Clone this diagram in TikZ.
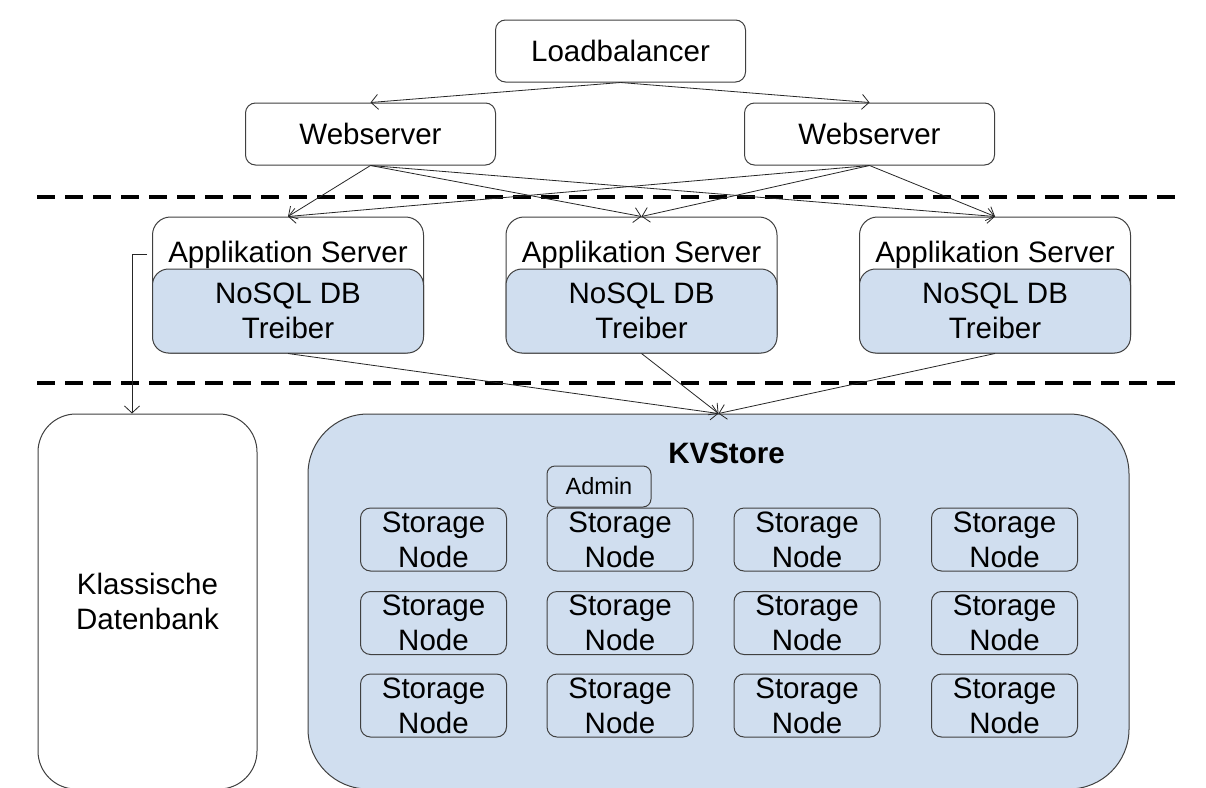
\documentclass[tikz,border=0pt]{standalone}
\usepackage{fontspec}
\setmainfont{Liberation Sans}
\usepackage{xcolor}
\usetikzlibrary{shapes,arrows.meta,positioning,calc}

\definecolor{kvblue}{RGB}{208,222,239}
\definecolor{edgegray}{RGB}{64,64,64}

\begin{document}
\begin{tikzpicture}[x=1pt, y=-1pt, every node/.style={font=\fontsize{29.5}{35}\selectfont}]

% Box and connector styles
\tikzstyle{box}=[rectangle, draw=edgegray, line width=1pt, align=center, inner sep=0pt, rounded corners=10pt]
\tikzstyle{server}=[box, fill=white, minimum width=250pt, minimum height=62pt]
\tikzstyle{appserver}=[box, fill=white, rounded corners=18pt, minimum width=271pt, minimum height=136pt]
\tikzstyle{driver}=[box, fill=kvblue, rounded corners=16pt, minimum width=271pt, minimum height=84pt]
\tikzstyle{storage}=[box, fill=kvblue, minimum width=146pt, minimum height=63pt]
\tikzstyle{admin}=[box, fill=kvblue, rounded corners=8pt, minimum width=104pt, minimum height=41pt, font=\fontsize{23.5}{28}\selectfont]
\tikzstyle{store}=[box, fill=kvblue, rounded corners=60pt, minimum width=821pt, minimum height=375pt]
\tikzstyle{database}=[box, fill=white, rounded corners=38pt, minimum width=219pt, minimum height=375pt]
\tikzstyle{link}=[-{Straight Barb[length=7pt, width=15pt]}, draw=black!85, line width=0.8pt]
\tikzstyle{layer}=[draw=black, line width=4pt, dash pattern=on 18pt off 10pt]

\fill[white] (0,0) rectangle (1206,787);
\useasboundingbox (0,0) rectangle (1206,787);

% Web tier
\node[server] (lb) at (620.5,51) {Loadbalancer};
\node[server] (ws1) at (370.5,134) {Webserver};
\node[server] (ws2) at (869.5,134) {Webserver};

% Tier separators
\coordinate (sepa1) at (37,197);
\coordinate (sepa2) at (1182,197);
\coordinate (sepb1) at (37,383);
\coordinate (sepb2) at (1182,383);
\draw[layer] (sepa1) -- (sepa2);
\draw[layer] (sepb1) -- (sepb2);

% Application servers with driver
\node[appserver] (app1) at (288,285) {};
\node[appserver] (app2) at (641.5,285) {};
\node[appserver] (app3) at (995,285) {};
\node[driver] (drv1) at (288,311) {NoSQL DB\\Treiber};
\node[driver] (drv2) at (641.5,311) {NoSQL DB\\Treiber};
\node[driver] (drv3) at (995,311) {NoSQL DB\\Treiber};
\node[anchor=base] (app1txt) at (288,262) {Applikation Server};
\node[anchor=base] (app2txt) at (641.5,262) {Applikation Server};
\node[anchor=base] (app3txt) at (995,262) {Applikation Server};

% Storage layer
\node[database] (db) at (147.5,601.5) {Klassische\\Datenbank};
\node[store] (kv) at (718.5,601.5) {};
\node[anchor=base, font=\fontsize{29.5}{35}\selectfont\bfseries] (kvtitle) at (726.5,463) {KVStore};
\node[admin] (adm) at (599,486.5) {Admin};

\node[storage] (sn11) at (433.5,539.5) {Storage\\Node};
\node[storage] (sn12) at (620,539.5) {Storage\\Node};
\node[storage] (sn13) at (807,539.5) {Storage\\Node};
\node[storage] (sn14) at (1004.5,539.5) {Storage\\Node};
\node[storage] (sn21) at (433.5,623) {Storage\\Node};
\node[storage] (sn22) at (620,623) {Storage\\Node};
\node[storage] (sn23) at (807,623) {Storage\\Node};
\node[storage] (sn24) at (1004.5,623) {Storage\\Node};
\node[storage] (sn31) at (433.5,705.5) {Storage\\Node};
\node[storage] (sn32) at (620,705.5) {Storage\\Node};
\node[storage] (sn33) at (807,705.5) {Storage\\Node};
\node[storage] (sn34) at (1004.5,705.5) {Storage\\Node};

% Arrows
\draw[link] (lb.south) -- (ws1.north);
\draw[link] (lb.south) -- (ws2.north);

\draw[link] (ws1.south) -- (app1.north);
\draw[link] (ws1.south) -- (app2.north);
\draw[link] (ws1.south) -- (app3.north);
\draw[link] (ws2.south) -- (app1.north);
\draw[link] (ws2.south) -- (app2.north);
\draw[link] (ws2.south) -- (app3.north);

\draw[link] (app1.south) -- (kv.north);
\draw[link] (app2.south) -- (kv.north);
\draw[link] (app3.south) -- (kv.north);

\draw[link] ([xshift=-5pt]app1.west |- app1txt) -| ([xshift=-15.5pt]db.north);

\end{tikzpicture}
\end{document}
